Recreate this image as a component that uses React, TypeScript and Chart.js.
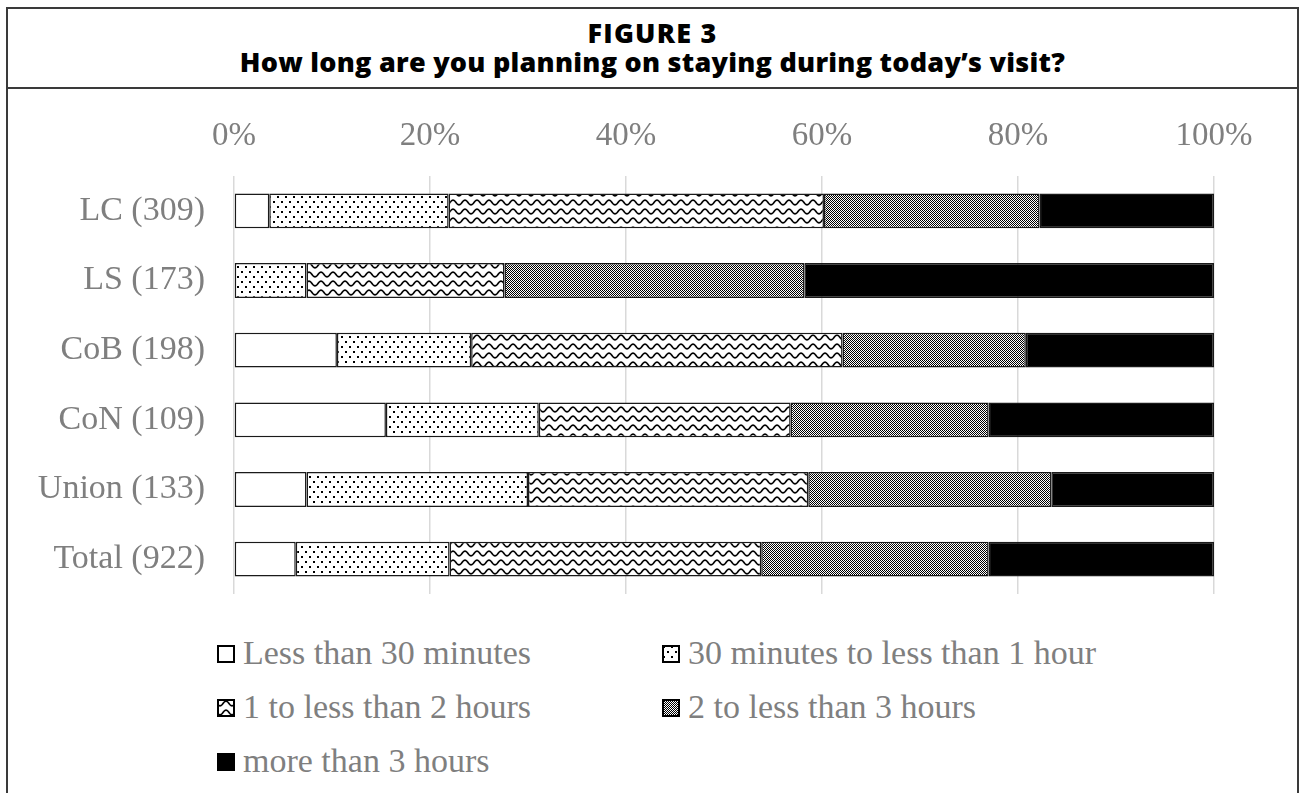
import React, { useEffect, useRef } from "react";
import { Chart, registerables } from "chart.js";

Chart.register(...registerables);

const categories = ["LC (309)", "LS (173)", "CoB (198)", "CoN (109)", "Union (133)", "Total (922)"];
const seriesNames = [
  "Less than 30 minutes",
  "30 minutes to less than 1 hour",
  "1 to less than 2 hours",
  "2 to less than 3 hours",
  "more than 3 hours",
];
const lessThan30 = [3.6, 0, 10.5, 15.5, 7.4, 6.3];
const min30to1h = [18.3, 7.4, 13.7, 15.6, 22.6, 15.7];
const h1to2 = [38.3, 20.2, 37.9, 25.7, 28.6, 31.8];
const h2to3 = [22.0, 30.6, 18.7, 20.2, 24.8, 23.2];
const more3 = [17.8, 41.8, 19.2, 23.0, 16.6, 23.0];
const seriesValues = [lessThan30, min30to1h, h1to2, h2to3, more3];
const xTickValues = [0, 20, 40, 60, 80, 100];

const SERIF = "'Liberation Serif', 'Times New Roman', serif";
const GREY_TEXT = "#7f7f7f";

function makeTile(w: number, h: number, draw: (c: CanvasRenderingContext2D) => void) {
  const cv = document.createElement("canvas");
  cv.width = w;
  cv.height = h;
  const c = cv.getContext("2d")!;
  c.fillStyle = "#ffffff";
  c.fillRect(0, 0, w, h);
  draw(c);
  return cv;
}

function makeFills(ctx: CanvasRenderingContext2D): (string | CanvasPattern)[] {
  const dots = makeTile(8, 10, (c) => {
    c.fillStyle = "#000";
    c.fillRect(1, 1, 2, 2);
    c.fillRect(5, 6, 2, 2);
  });
  const wave = makeTile(12, 9, (c) => {
    c.strokeStyle = "#000";
    c.lineWidth = 1.6;
    c.beginPath();
    for (let x = -1; x <= 13; x += 0.5) {
      const y = 4.5 + 2.4 * Math.sin((2 * Math.PI * x) / 12);
      if (x === -1) c.moveTo(x, y);
      else c.lineTo(x, y);
    }
    c.stroke();
  });
  const checker = makeTile(2, 2, (c) => {
    c.fillStyle = "#000";
    c.fillRect(0, 0, 1, 1);
    c.fillRect(1, 1, 1, 1);
  });
  return [
    "#ffffff",
    ctx.createPattern(dots, "repeat")!,
    ctx.createPattern(wave, "repeat")!,
    ctx.createPattern(checker, "repeat")!,
    "#000000",
  ];
}

const legendPos = [
  { left: 217, base: 664 },
  { left: 662, base: 664 },
  { left: 217, base: 718 },
  { left: 662, base: 718 },
  { left: 217, base: 772 },
];

export default function App() {
  const canvasRef = useRef<HTMLCanvasElement | null>(null);
  const swatchRefs = useRef<(HTMLCanvasElement | null)[]>([]);

  useEffect(() => {
    const canvas = canvasRef.current;
    if (!canvas) return;
    const ctx = canvas.getContext("2d")!;
    const fills = makeFills(ctx);

    swatchRefs.current.forEach((sc, i) => {
      if (!sc) return;
      const sctx = sc.getContext("2d")!;
      const f = makeFills(sctx)[i];
      sctx.clearRect(0, 0, sc.width, sc.height);
      sctx.fillStyle = f as any;
      sctx.fillRect(0, 0, sc.width, sc.height);
      sctx.strokeStyle = "#000";
      sctx.lineWidth = 2;
      sctx.strokeRect(1, 1, sc.width - 2, sc.height - 2);
    });

    const chart = new Chart(ctx, {
      type: "bar",
      data: {
        labels: categories,
        datasets: seriesNames.map((name, i) => ({
          label: name,
          data: seriesValues[i],
          backgroundColor: fills[i] as any,
          borderColor: "#1a1a1a",
          borderWidth: 1.5,
          borderSkipped: false,
          barPercentage: 1,
          categoryPercentage: 0.5,
        })),
      },
      options: {
        indexAxis: "y",
        responsive: false,
        animation: false,
        layout: { padding: { left: 0, right: 87, top: 0, bottom: 26 } },
        plugins: {
          legend: { display: false },
          tooltip: { enabled: false },
          title: { display: false },
        },
        scales: {
          x: {
            position: "top",
            stacked: true,
            min: 0,
            max: 100,
            afterBuildTicks: (s: any) => {
              s.ticks = xTickValues.map((v) => ({ value: v }));
            },
            ticks: {
              callback: (v: any) => v + "%",
              font: { family: SERIF, size: 33 },
              color: GREY_TEXT,
              padding: 20,
              maxRotation: 0,
            },
            grid: { color: "#d9d9d9", lineWidth: 1.5, drawTicks: false },
            border: { display: false },
            afterFit: (s: any) => {
              s.height = 86;
              s.paddingLeft = 0;
              s.paddingRight = 0;
              s.paddingTop = 0;
              s.paddingBottom = 0;
            },
          },
          y: {
            stacked: true,
            ticks: {
              font: { family: SERIF, size: 34 },
              color: GREY_TEXT,
              padding: 29,
            },
            grid: { display: false, drawTicks: false },
            border: { display: false },
            afterFit: (s: any) => {
              s.width = 234;
              s.paddingLeft = 0;
              s.paddingRight = 0;
              s.paddingTop = 0;
              s.paddingBottom = 0;
            },
          },
        },
      },
    });
    return () => chart.destroy();
  }, []);

  const titleStyle: React.CSSProperties = {
    position: "absolute",
    left: 6,
    width: 1293,
    textAlign: "center",
    fontFamily: "'Open Sans', sans-serif",
    fontWeight: 800,
    fontSize: 27,
    lineHeight: "30px",
    color: "#000",
    whiteSpace: "nowrap",
  };

  return (
    <div
      style={{
        position: "absolute",
        left: 0,
        top: 0,
        width: 1301,
        height: 793,
        overflow: "hidden",
        background: "#fff",
      }}
    >
      <div
        style={{
          position: "absolute",
          left: 6,
          top: 7,
          width: 1289,
          height: 900,
          border: "2px solid #3a3a3a",
        }}
      />
      <div style={{ position: "absolute", left: 6, top: 87, width: 1293, height: 2, background: "#3a3a3a" }} />
      <div style={{ ...titleStyle, top: 17.5, letterSpacing: "1.2px" }}>FIGURE 3</div>
      <div style={{ ...titleStyle, top: 46.5, letterSpacing: "0.25px" }}>
        How long are you planning on staying during today’s visit?
      </div>
      <canvas
        ref={canvasRef}
        width={1301}
        height={530}
        style={{ position: "absolute", left: 0, top: 90, width: 1301, height: 530 }}
      />
      {seriesNames.map((name, i) => (
        <React.Fragment key={name}>
          <canvas
            ref={(el) => {
              swatchRefs.current[i] = el;
            }}
            width={18}
            height={18}
            style={{
              position: "absolute",
              left: legendPos[i].left,
              top: legendPos[i].base - 19,
              width: 18,
              height: 18,
            }}
          />
          <div
            style={{
              position: "absolute",
              left: legendPos[i].left + 26,
              top: legendPos[i].base - 31.5,
              fontFamily: SERIF,
              fontSize: 34,
              lineHeight: "40px",
              color: GREY_TEXT,
              whiteSpace: "nowrap",
            }}
          >
            {name}
          </div>
        </React.Fragment>
      ))}
    </div>
  );
}
